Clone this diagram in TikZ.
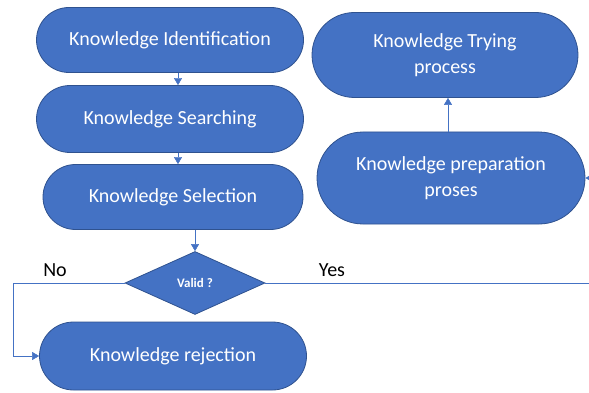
\documentclass[tikz,border=0pt]{standalone}
\usepackage{fontspec}
\setmainfont{Carlito}
\usepackage{tikz}
\usetikzlibrary{shapes.misc,shapes.geometric,arrows.meta}

\definecolor{boxblue}{HTML}{4472C4}
\definecolor{edgeblue}{HTML}{2F528F}

\tikzset{
  stadium/.style={rounded rectangle, fill=boxblue, draw=edgeblue, thick,
    text=white, font=\fontsize{20}{26}\selectfont, align=center,
    inner sep=0pt},
  flow/.style={draw=boxblue, -{Triangle[width=8pt,length=7pt]}}
}

\begin{document}
\begin{tikzpicture}[x=1pt,y=-1pt]
\useasboundingbox (0,0) rectangle (589,393);

\node[stadium, minimum width=267pt, minimum height=65pt] (KI) at (170,40) {Knowledge Identification};
\node[stadium, minimum width=267pt, minimum height=67pt] (KS) at (170,119) {Knowledge Searching};
\node[stadium, minimum width=260pt, minimum height=65pt] (KSel) at (173,197) {Knowledge Selection};
\node[diamond, fill=boxblue, draw=edgeblue, thick, aspect=2.2, minimum width=140pt,
  minimum height=63pt, inner sep=0pt, text=white, font=\bfseries\fontsize{13}{15}\selectfont] (V) at (195,283) {Valid ?};
\node[stadium, minimum width=267pt, minimum height=68pt] (KR) at (173,356) {Knowledge rejection};
\node[stadium, minimum width=266pt, minimum height=85pt] (KT) at (445,55) {Knowledge Trying\\process};
\node[stadium, minimum width=268pt, minimum height=92pt] (KP) at (451,178) {Knowledge preparation\\proses};

\node[font=\fontsize{20}{24}\selectfont] (no) at (55,270) {No};
\node[font=\fontsize{20}{24}\selectfont] (yes) at (332,270) {Yes};

\coordinate (noturn) at (13,283);
\coordinate (yesturn) at (600,283);

\draw[flow] (KI.south -| 178,0) -- (KS.north -| 178,0);
\draw[flow] (KS.south -| 178,0) -- (KSel.north -| 178,0);
\draw[flow] (KSel.south -| V.north) -- (V.north);
\draw[flow] (V.west) -- (noturn) |- (KR.west);
\draw[flow] (V.east) -- (yesturn) |- (KP.east);
\draw[flow] (KP.north -| 448,0) -- (KT.south -| 448,0);

\end{tikzpicture}
\end{document}
